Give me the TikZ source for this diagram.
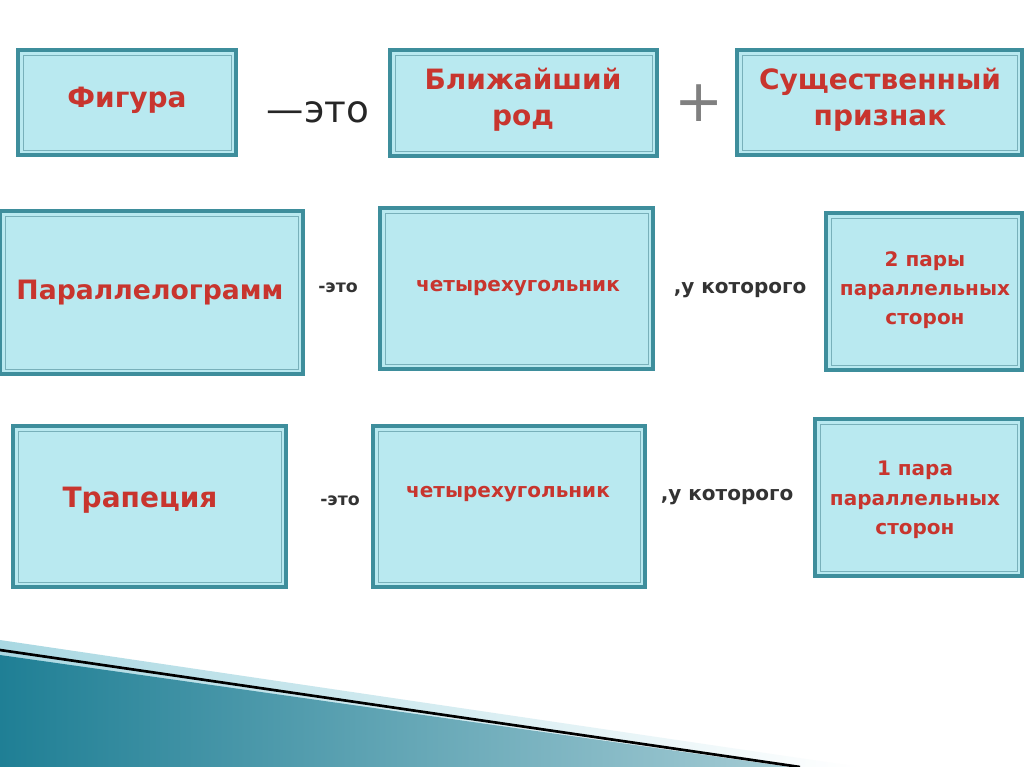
\documentclass[tikz,border=0pt]{standalone}
\usepackage{fontspec}
\setmainfont{DejaVu Sans}
\definecolor{boxfill}{HTML}{B9E9F0}
\definecolor{boxline}{HTML}{3E8E9C}
\definecolor{txtred}{HTML}{C8352E}
\definecolor{teal1}{HTML}{1F7F95}
\definecolor{teal2}{HTML}{A9D8E2}
\tikzset{
 boxx/.style={draw=boxline,line width=2.6pt,fill=boxfill,inner sep=0pt},
 inner/.style={draw=boxline!70,line width=0.7pt},
 lab/.style={text=txtred,font=\bfseries,align=center},
 conn/.style={font=\bfseries\fontsize{13}{16}\selectfont,text=black!80},
}
\begin{document}
\begin{tikzpicture}[x=0.75pt,y=-0.75pt]
\useasboundingbox (0,0) rectangle (1024,767);
\fill[white] (0,0) rectangle (1024,767);
% bottom decoration
\shade[left color=teal2,right color=white] (0,640) -- (860,767) -- (0,767) -- cycle;
\shade[left color=teal1,right color=teal1!40] (0,655) -- (790,767) -- (0,767) -- cycle;
\draw[black,line width=2pt] (0,650) -- (800,767);
% boxes
\newcommand{\mybox}[5]{%
 \draw[boxx] (#1,#2) rectangle (#3,#4);
 \draw[inner] (#1+5,#2+5) rectangle (#3-5,#4-5);
 \node[lab] (#5) at ({(#1+#3)/2},{(#2+#4)/2}) {};}
\mybox{18}{50}{236}{155}{a1}
\mybox{390}{50}{657}{156}{a2}
\mybox{737}{50}{1022}{155}{a3}
\mybox{0}{211}{303}{374}{b1}
\mybox{380}{208}{653}{369}{b2}
\mybox{826}{213}{1022}{370}{b3}
\mybox{13}{426}{286}{587}{c1}
\mybox{373}{426}{645}{587}{c2}
\mybox{815}{419}{1022}{576}{c3}
\node[lab,font=\bfseries\fontsize{21}{27}\selectfont] at (127,100) {Фигура};
\node[lab,font=\bfseries\fontsize{21}{27}\selectfont] at (523,100) {Ближайший\\род};
\node[lab,font=\bfseries\fontsize{21}{27}\selectfont] at (880,100) {Существенный\\признак};
\node[font=\fontsize{28}{30}\selectfont,text=black!85] (e1) at (318,112) {—это};
\node[font=\fontsize{44}{44}\selectfont,text=black!50] (p1) at (699,103) {+};
\node[lab,font=\bfseries\fontsize{20}{24}\selectfont] at (150,293) {Параллелограмм};
\node[lab,font=\bfseries\fontsize{15}{17}\selectfont] at (518,288) {четырехугольник};
\node[lab,font=\bfseries\fontsize{15}{22}\selectfont] at (925,290) {2 пары\\параллельных\\сторон};
\node[conn] (e2) at (338,288) {-это};
\node[conn,font=\bfseries\fontsize{15}{17}\selectfont] (k2) at (740,290) {,у которого};
\node[lab,font=\bfseries\fontsize{21}{24}\selectfont] at (140,500) {Трапеция};
\node[lab,font=\bfseries\fontsize{15}{17}\selectfont] at (508,494) {четырехугольник};
\node[lab,font=\bfseries\fontsize{15}{22}\selectfont] at (915,500) {1 пара\\параллельных\\сторон};
\node[conn] (e3) at (340,501) {-это};
\node[conn,font=\bfseries\fontsize{15}{17}\selectfont] (k3) at (727,497) {,у которого};
\end{tikzpicture}
\end{document}
